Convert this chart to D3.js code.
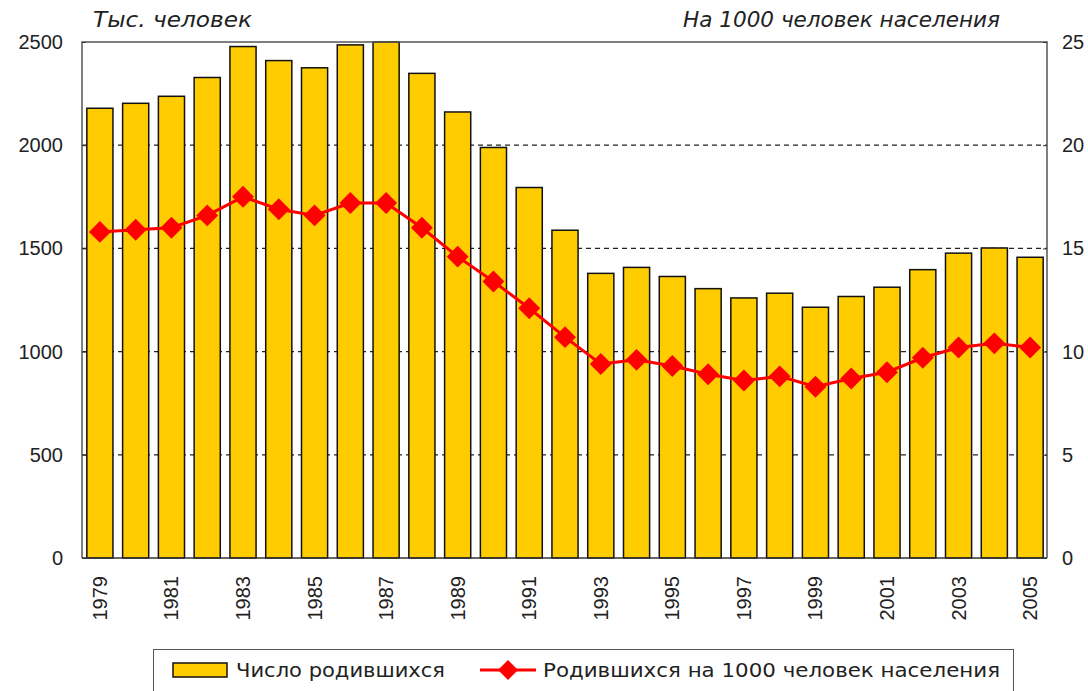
<!DOCTYPE html>
<html><head><meta charset="utf-8">
<script src="https://cdn.jsdelivr.net/npm/d3@7"></script>
<style>
body{margin:0;background:#fff;}
text{font-family:"Liberation Sans",Arial,sans-serif;fill:#222;}
.lab{font-family:"DejaVu Sans","Liberation Sans",sans-serif;}
</style></head>
<body><svg id="c" width="1088" height="691"></svg>
<script>
const years = [1979,1980,1981,1982,1983,1984,1985,1986,1987,1988,1989,1990,1991,1992,1993,1994,1995,1996,1997,1998,1999,2000,2001,2002,2003,2004,2005];
const births = [2179,2203,2237,2328,2478,2410,2375,2486,2500,2348,2161,1989,1795,1588,1379,1408,1364,1305,1260,1283,1215,1267,1312,1397,1477,1502,1457];
const rate = [15.8,15.9,16.0,16.6,17.5,16.9,16.6,17.2,17.2,16.0,14.6,13.4,12.1,10.7,9.4,9.6,9.3,8.9,8.6,8.8,8.3,8.7,9.0,9.7,10.2,10.4,10.2];
const leftTicks = [0,500,1000,1500,2000,2500];
const rightTicks = [0,5,10,15,20,25];
const yearTicks = [1979,1981,1983,1985,1987,1989,1991,1993,1995,1997,1999,2001,2003,2005];
const leftTitle = "Тыс. человек";
const rightTitle = "На 1000 человек населения";
const legendBar = "Число родившихся";
const legendLine = "Родившихся на 1000 человек населения";

const svg = d3.select("#c");
const L=82, R=1047, T=42, B=558;
const x = d3.scaleBand().domain(years).range([L,R+1]).paddingInner(0.27).paddingOuter(0.135);
const yL = d3.scaleLinear().domain([0,2500]).range([B,T]);
const yR = d3.scaleLinear().domain([0,25]).range([B,T]);

// gridlines (behind bars)
svg.append("g").selectAll("line").data(leftTicks.filter(d=>d>0&&d<2500)).join("line")
  .attr("x1",L).attr("x2",R).attr("y1",d=>yL(d)).attr("y2",d=>yL(d))
  .attr("stroke","#222").attr("stroke-width",1.2).attr("stroke-dasharray","5,4");

// bars
svg.append("g").selectAll("rect").data(years).join("rect")
  .attr("x",(d)=>x(d)).attr("width",x.bandwidth())
  .attr("y",(d,i)=>yL(births[i])).attr("height",(d,i)=>B-yL(births[i]))
  .attr("fill","#FFCC00").attr("stroke","#111").attr("stroke-width",1.5);

// frame
svg.append("path").attr("d",`M${L},${B}V${T}H${R}V${B}`).attr("fill","none").attr("stroke","#555").attr("stroke-width",1.5);
svg.append("line").attr("x1",L).attr("x2",R).attr("y1",B).attr("y2",B).attr("stroke","#333").attr("stroke-width",1.5);

// axes
const fmt = d3.format("d");
const ax = svg.append("g").attr("transform",`translate(${L},0)`)
  .call(d3.axisLeft(yL).tickValues(leftTicks).tickFormat(fmt).tickSize(-4).tickPadding(19));
const axR = svg.append("g").attr("transform",`translate(${R},0)`)
  .call(d3.axisRight(yR).tickValues(rightTicks).tickFormat(fmt).tickSize(-4).tickPadding(15));
const axB = svg.append("g").attr("transform",`translate(0,${B})`)
  .call(d3.axisBottom(x).tickValues(yearTicks).tickSize(0));
[ax,axR,axB].forEach(a=>{a.select(".domain").remove(); a.selectAll("text").style("font-size","20px").attr("fill","#333"); a.selectAll("line").attr("stroke","#333");});
axB.selectAll("text").attr("transform","rotate(-90)").attr("x",-18).attr("y",0).attr("dy","0.35em").style("text-anchor","end");

// rate line
const line = d3.line().x((d,i)=>x(years[i])+x.bandwidth()/2).y(d=>yR(d));
svg.append("path").datum(rate).attr("d",line).attr("fill","none").attr("stroke","#FF0000").attr("stroke-width",3);
svg.append("g").selectAll("path").data(rate).join("path")
  .attr("transform",(d,i)=>`translate(${x(years[i])+x.bandwidth()/2},${yR(d)}) rotate(45)`)
  .attr("d",d3.symbol().type(d3.symbolSquare).size(240)).attr("fill","#FF0000");

// titles
svg.append("text").attr("class","lab").attr("x",93).attr("y",27).style("font-size","21px").style("font-style","italic")
  .attr("textLength",159).attr("lengthAdjust","spacingAndGlyphs").text(leftTitle);
svg.append("text").attr("class","lab").attr("x",683).attr("y",27).style("font-size","21px").style("font-style","italic")
  .attr("textLength",317).attr("lengthAdjust","spacingAndGlyphs").text(rightTitle);

// legend
const lg = svg.append("g");
lg.append("rect").attr("x",153.5).attr("y",649.5).attr("width",860).attr("height",60).attr("fill","#fff").attr("stroke","#555");
lg.append("rect").attr("x",173).attr("y",663).attr("width",54).attr("height",14).attr("fill","#FFCC00").attr("stroke","#111").attr("stroke-width",1.5);
lg.append("text").attr("class","lab").attr("x",236).attr("y",677).style("font-size","20px")
  .attr("textLength",209).attr("lengthAdjust","spacingAndGlyphs").text(legendBar);
lg.append("line").attr("x1",480).attr("x2",536).attr("y1",670).attr("y2",670).attr("stroke","#FF0000").attr("stroke-width",3);
lg.append("path").attr("transform","translate(508,670) rotate(45)").attr("d",d3.symbol().type(d3.symbolSquare).size(200)).attr("fill","#FF0000");
lg.append("text").attr("class","lab").attr("x",543).attr("y",677).style("font-size","20px")
  .attr("textLength",457).attr("lengthAdjust","spacingAndGlyphs").text(legendLine);
</script></body></html>
